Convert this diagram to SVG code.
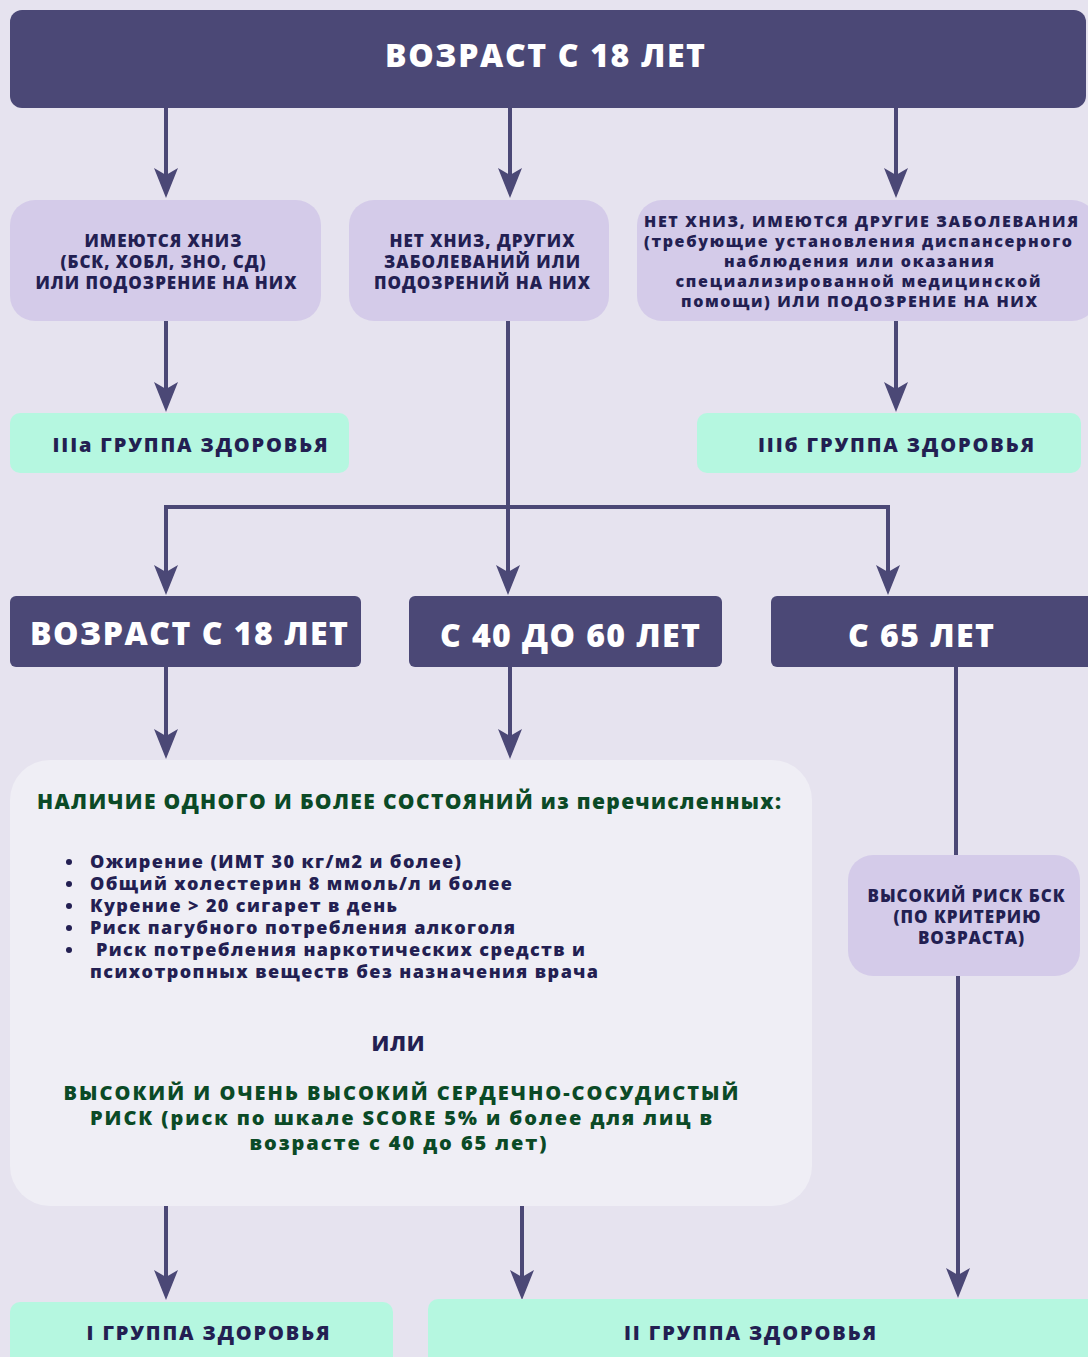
<svg xmlns="http://www.w3.org/2000/svg" width="1088" height="1357" viewBox="0 0 1088 1357">
<defs>
<marker id="ah" markerUnits="userSpaceOnUse" markerWidth="30" markerHeight="24" viewBox="0 0 30 24" refX="22" refY="12" orient="auto">
<path d="M0,0 L30,12 L0,24 L7,12 Z" fill="#4B4876"/>
</marker>
<style>
.dark{fill:#4B4876}
.lav{fill:#D4CBE9}
.mint{fill:#B5F7E0}
.pale{fill:#EFEEF5}
text{font-family:"Open Sans","DejaVu Sans",sans-serif;font-weight:800;text-anchor:middle}
.w{fill:#FFFFFF}
.n{fill:#231F52}
.g{fill:#0B4A26}
.s{text-anchor:start}
.c{stroke:#4B4876;stroke-width:4;fill:none}
.ca{stroke:#4B4876;stroke-width:4;fill:none;marker-end:url(#ah)}
</style>
</defs>
<rect width="1088" height="1357" fill="#E6E3EF"/>

<g id="connectors">
<path class="ca" d="M166,108 V190"/>
<path class="ca" d="M510,108 V190"/>
<path class="ca" d="M896,108 V190"/>
<path class="ca" d="M166,321 V404"/>
<path class="ca" d="M896,321 V404"/>
<path class="ca" d="M508,321 V587"/>
<path class="ca" d="M508,507 H166 V587"/>
<path class="ca" d="M508,507 H888 V587"/>
<path class="ca" d="M166,667 V751"/>
<path class="ca" d="M510,667 V751"/>
<path class="c" d="M956,667 V856"/>
<path class="ca" d="M958,976 V1290"/>
<path class="ca" d="M166,1206 V1292"/>
<path class="ca" d="M522,1206 V1292"/>
</g>

<g id="header">
<rect class="dark" x="10" y="10" width="1076" height="98" rx="12"/>
<text class="w" x="545" y="67" font-size="32" textLength="320" lengthAdjust="spacing">ВОЗРАСТ С 18 ЛЕТ</text>
</g>

<g id="box-hniz">
<rect class="lav" x="10" y="200" width="311" height="121" rx="25"/>
<text class="n" font-size="17"><tspan x="163" y="247" textLength="157" lengthAdjust="spacing">ИМЕЮТСЯ ХНИЗ</tspan><tspan x="163" y="268" textLength="205" lengthAdjust="spacing">(БСК, ХОБЛ, ЗНО, СД)</tspan><tspan x="166" y="289" textLength="261" lengthAdjust="spacing">ИЛИ ПОДОЗРЕНИЕ НА НИХ</tspan></text>
</g>

<g id="box-net-hniz">
<rect class="lav" x="349" y="200" width="260" height="121" rx="25"/>
<text class="n" font-size="17"><tspan x="482" y="247" textLength="185" lengthAdjust="spacing">НЕТ ХНИЗ, ДРУГИХ</tspan><tspan x="482" y="268" textLength="196" lengthAdjust="spacing">ЗАБОЛЕВАНИЙ ИЛИ</tspan><tspan x="482" y="289" textLength="216" lengthAdjust="spacing">ПОДОЗРЕНИЙ НА НИХ</tspan></text>
</g>

<g id="box-other">
<rect class="lav" x="637" y="200" width="460" height="121" rx="25"/>
<text class="n" font-size="16"><tspan x="861" y="227" textLength="434" lengthAdjust="spacing">НЕТ ХНИЗ, ИМЕЮТСЯ ДРУГИЕ ЗАБОЛЕВАНИЯ</tspan><tspan x="858" y="247" textLength="428" lengthAdjust="spacing">(требующие установления диспансерного</tspan><tspan x="859" y="267" textLength="270" lengthAdjust="spacing">наблюдения или оказания</tspan><tspan x="858" y="287" textLength="365" lengthAdjust="spacing">специализированной медицинской</tspan><tspan x="859" y="307" textLength="356" lengthAdjust="spacing">помощи) ИЛИ ПОДОЗРЕНИЕ НА НИХ</tspan></text>
</g>

<g id="group-3a">
<rect class="mint" x="10" y="413" width="339" height="60" rx="10"/>
<text class="n" x="190" y="452" font-size="20" textLength="275" lengthAdjust="spacing">IIIа ГРУППА ЗДОРОВЬЯ</text>
</g>

<g id="group-3b">
<rect class="mint" x="697" y="413" width="384" height="60" rx="10"/>
<text class="n" x="896" y="452" font-size="20" textLength="276" lengthAdjust="spacing">IIIб ГРУППА ЗДОРОВЬЯ</text>
</g>

<g id="age-18">
<rect class="dark" x="10" y="596" width="351" height="71" rx="6"/>
<text class="w" x="189" y="645" font-size="32" textLength="318" lengthAdjust="spacing">ВОЗРАСТ С 18 ЛЕТ</text>
</g>

<g id="age-40-60">
<rect class="dark" x="409" y="596" width="313" height="71" rx="6"/>
<text class="w" x="570" y="647" font-size="32" textLength="260" lengthAdjust="spacing">С 40 ДО 60 ЛЕТ</text>
</g>

<g id="age-65">
<rect class="dark" x="771" y="596" width="330" height="71" rx="6"/>
<text class="w" x="921" y="647" font-size="32" textLength="146" lengthAdjust="spacing">С 65 ЛЕТ</text>
</g>

<g id="conditions">
<rect class="pale" x="10" y="760" width="802" height="446" rx="40"/>
<text class="g" x="409" y="809" font-size="21" textLength="744" lengthAdjust="spacing">НАЛИЧИЕ ОДНОГО И БОЛЕЕ СОСТОЯНИЙ из перечисленных:</text>
<g fill="#231F52">
<circle cx="69" cy="862" r="3"/>
<circle cx="69" cy="884" r="3"/>
<circle cx="69" cy="906" r="3"/>
<circle cx="69" cy="928" r="3"/>
<circle cx="69" cy="950" r="3"/>
</g>
<text class="n s" x="90" y="868" font-size="18" textLength="371" lengthAdjust="spacing">Ожирение (ИМТ 30 кг/м2 и более)</text>
<text class="n s" x="90" y="890" font-size="18" textLength="422" lengthAdjust="spacing">Общий холестерин 8 ммоль/л и более</text>
<text class="n s" x="90" y="912" font-size="18" textLength="307" lengthAdjust="spacing">Курение &gt; 20 сигарет в день</text>
<text class="n s" x="90" y="934" font-size="18" textLength="425" lengthAdjust="spacing">Риск пагубного потребления алкоголя</text>
<text class="n s" x="96" y="956" font-size="18" textLength="489" lengthAdjust="spacing">Риск потребления наркотических средств и</text>
<text class="n s" x="90" y="978" font-size="18" textLength="508" lengthAdjust="spacing">психотропных веществ без назначения врача</text>
<text class="n" x="398" y="1051" font-size="21" textLength="53" lengthAdjust="spacing">ИЛИ</text>
<text class="g" font-size="20"><tspan x="401" y="1100" textLength="675" lengthAdjust="spacing">ВЫСОКИЙ И ОЧЕНЬ ВЫСОКИЙ СЕРДЕЧНО-СОСУДИСТЫЙ</tspan><tspan x="401" y="1125" textLength="622" lengthAdjust="spacing">РИСК (риск по шкале SCORE 5% и более для лиц в</tspan><tspan x="398" y="1150" textLength="297" lengthAdjust="spacing">возрасте с 40 до 65 лет)</tspan></text>
</g>

<g id="high-risk">
<rect class="lav" x="848" y="855" width="232" height="121" rx="25"/>
<text class="n" font-size="17"><tspan x="966" y="902" textLength="197" lengthAdjust="spacing">ВЫСОКИЙ РИСК БСК</tspan><tspan x="967" y="923" textLength="147" lengthAdjust="spacing">(ПО КРИТЕРИЮ</tspan><tspan x="971" y="944" textLength="106" lengthAdjust="spacing">ВОЗРАСТА)</tspan></text>
</g>

<g id="group-1">
<rect class="mint" x="10" y="1302" width="383" height="70" rx="10"/>
<text class="n" x="208" y="1340" font-size="20" textLength="243" lengthAdjust="spacing">I ГРУППА ЗДОРОВЬЯ</text>
</g>

<g id="group-2">
<rect class="mint" x="428" y="1299" width="680" height="73" rx="10"/>
<text class="n" x="750" y="1340" font-size="20" textLength="252" lengthAdjust="spacing">II ГРУППА ЗДОРОВЬЯ</text>
</g>
</svg>
